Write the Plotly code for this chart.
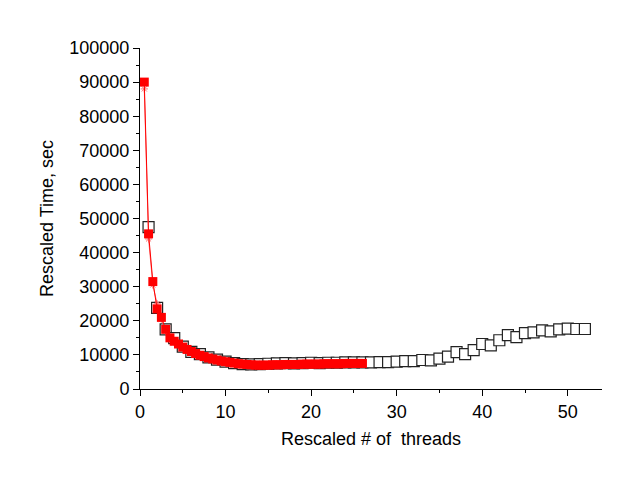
import plotly.graph_objects as go

# Black open squares series
black_x = list(range(1, 53))
black_y = [47500, 23800, 17500, 14900, 12400, 10900, 10200, 9300, 8600, 8000,
           7600, 7300, 7200, 7300, 7400, 7500, 7600, 7500, 7600, 7700,
           7600, 7700, 7700, 7800, 7800, 7800, 7800, 7900, 7900, 8000,
           8200, 8200, 8500, 8400, 8900, 9500, 10800, 10200, 11400, 13200,
           12800, 14300, 15800, 15200, 16400, 16600, 17200, 16900, 17500, 17700,
           17600, 17600]

# Black small down-triangle (visible only at the start)
tri_x = [1]
tri_y = [45500]

# Red filled squares series
red_x = [0.5 * i for i in range(1, 53)]
red_y = [90000, 45500, 31500, 23500, 21000, 17500, 15000, 14000, 13200, 12300,
         11600, 11000, 10400, 9900, 9500, 9100, 8800, 8500, 8200, 8000,
         7800, 7600, 7400, 7300, 7200, 7100, 7000, 7000, 7000, 7000,
         7100, 7100, 7100, 7200, 7200, 7200, 7200, 7300, 7300, 7300,
         7300, 7300, 7400, 7400, 7400, 7400, 7400, 7500, 7500, 7500,
         7500, 7500]

# Pink star series (slightly below the red)
star_y = [88000, 44000, 30500, 25000, 20500, 17000, 14600, 13600, 12800, 12000,
          11300, 10700, 10100, 9600, 9200, 8900, 8600, 8300, 8000, 7800,
          7600, 7400, 7200, 7100, 7000, 6900, 6800, 6800, 6800, 6800,
          6900, 6900, 6900, 7000, 7000, 7000, 7000, 7100, 7100, 7100,
          7100, 7100, 7200, 7200, 7200, 7200, 7200, 7300, 7300, 7300,
          7300, 7300]

x_ticks = [0, 10, 20, 30, 40, 50]
y_ticks = [0, 10000, 20000, 30000, 40000, 50000, 60000, 70000, 80000, 90000, 100000]

fig = go.Figure()
fig.add_trace(go.Scatter(x=black_x, y=black_y, mode="markers",
                         marker=dict(symbol="square", size=11, color="white",
                                     line=dict(width=1.2, color="#222222"))))
fig.add_trace(go.Scatter(x=tri_x, y=tri_y, mode="markers",
                         marker=dict(symbol="triangle-down", size=7, color="black")))
fig.add_trace(go.Scatter(x=red_x, y=star_y, mode="lines+markers",
                         line=dict(color="#ff7070", width=1),
                         marker=dict(symbol="asterisk-open", size=6, color="#ff7070",
                                     line=dict(width=1, color="#ff7070"))))
fig.add_trace(go.Scatter(x=red_x, y=red_y, mode="lines+markers",
                         line=dict(color="red", width=1),
                         marker=dict(symbol="square", size=9, color="red",
                                     line=dict(width=0))))

font = "Liberation Sans, Arial, sans-serif"
fig.update_layout(
    width=638, height=486,
    margin=dict(l=140, r=36, t=48, b=97),
    paper_bgcolor="white", plot_bgcolor="white",
    showlegend=False,
    font=dict(family=font, size=18, color="black"),
    xaxis=dict(range=[0, 54], tickvals=x_ticks, showgrid=False, zeroline=False,
               showline=True, linecolor="black", linewidth=1,
               ticks="outside", ticklen=6, tickwidth=1, tickcolor="black",
               minor=dict(dtick=5, tick0=0, ticks="outside", ticklen=3, tickcolor="black", showgrid=False),
               title=dict(text="Rescaled # of \u00a0threads", font=dict(size=18), standoff=11),
               tickfont=dict(size=18)),
    yaxis=dict(range=[0, 100000], tickvals=y_ticks, tickformat="d", showgrid=False, zeroline=False,
               showline=True, linecolor="black", linewidth=1,
               ticks="outside", ticklen=6, tickwidth=1, tickcolor="black",
               minor=dict(dtick=5000, tick0=0, ticks="outside", ticklen=3, tickcolor="black", showgrid=False),
               title=dict(text="Rescaled Time, sec", font=dict(size=18), standoff=11),
               tickfont=dict(size=18)),
)
fig.write_html("out.html")
